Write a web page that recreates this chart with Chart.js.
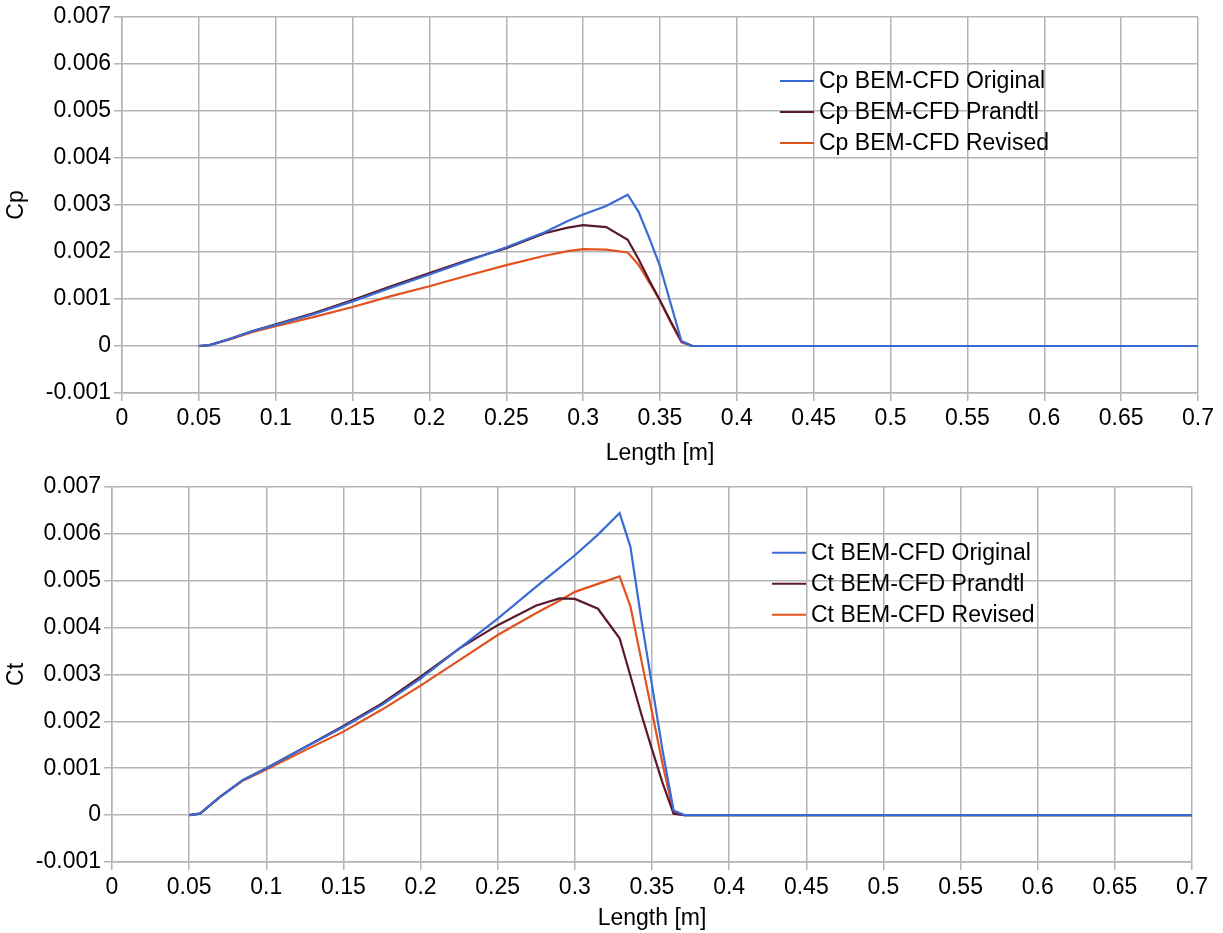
<!DOCTYPE html>
<html>
<head>
<meta charset="utf-8">
<script src="https://cdn.jsdelivr.net/npm/chart.js@4/dist/chart.umd.min.js"></script>
<style>
  html, body { margin: 0; padding: 0; background: #fff; }
  .box { position: absolute; left: 0; width: 1223px; }
  #top { top: 0; height: 470px; }
  #bottom { top: 470px; height: 463px; }
</style>
</head>
<body>
<div class="box" id="top"><canvas id="cpChart"></canvas></div>
<div class="box" id="bottom"><canvas id="ctChart"></canvas></div>
<script>
// radial position along the blade [m]
const lengthM = [0.05, 0.057, 0.07, 0.085, 0.1, 0.125, 0.15, 0.175, 0.2, 0.225, 0.25, 0.275, 0.29,
                 0.3, 0.315, 0.329, 0.336, 0.343, 0.35, 0.357, 0.364, 0.371, 0.4, 0.5, 0.6, 0.7];

const cpOriginal = [0, 0.00002, 0.00015, 0.00032, 0.00045, 0.00068, 0.00095, 0.00124, 0.00152, 0.00181, 0.0021, 0.00242, 0.00266,
                    0.0028, 0.00298, 0.00322, 0.00286, 0.0023, 0.0017, 0.0009, 0.0001, 0, 0, 0, 0, 0];
const cpPrandtl = [0, 0.00002, 0.00015, 0.00032, 0.00046, 0.0007, 0.00098, 0.00127, 0.00155, 0.00183, 0.00208, 0.0024, 0.00252,
                   0.00257, 0.00253, 0.00226, 0.00185, 0.0014, 0.00097, 0.00052, 0.0001, 0, 0, 0, 0, 0];
const cpRevised = [0, 0.00002, 0.00014, 0.0003, 0.00042, 0.00062, 0.00083, 0.00106, 0.00127, 0.0015, 0.00172, 0.00192, 0.00202,
                   0.00206, 0.00205, 0.00199, 0.00173, 0.00135, 0.00097, 0.0005, 0.00008, 0, 0, 0, 0, 0];

const ctOriginal = [0, 0.00003, 0.00039, 0.00075, 0.001, 0.00144, 0.00188, 0.00235, 0.00291, 0.00355, 0.00419, 0.00487, 0.00527,
                    0.00554, 0.00598, 0.00644, 0.00572, 0.00419, 0.00277, 0.00135, 0.0001, 0, 0, 0, 0, 0];
const ctPrandtl = [0, 0.00003, 0.00039, 0.00075, 0.001, 0.00145, 0.0019, 0.00238, 0.00295, 0.00355, 0.00405, 0.00447, 0.00462,
                   0.00461, 0.0044, 0.00377, 0.00297, 0.00216, 0.0014, 0.00067, 0.00003, 0, 0, 0, 0, 0];
const ctRevised = [0, 0.00003, 0.00039, 0.00074, 0.00097, 0.00138, 0.00178, 0.00225, 0.00276, 0.0033, 0.00384, 0.00431, 0.00457,
                   0.00476, 0.00493, 0.00509, 0.00445, 0.00332, 0.0022, 0.00107, 0.00005, 0, 0, 0, 0, 0];

const xTicks = [0, 0.05, 0.1, 0.15, 0.2, 0.25, 0.3, 0.35, 0.4, 0.45, 0.5, 0.55, 0.6, 0.65, 0.7];
const yTicks = [-0.001, 0, 0.001, 0.002, 0.003, 0.004, 0.005, 0.006, 0.007];

const colors = ['#3a6bd4', '#5a1a2c', '#e2521e'];
const FONT = { family: '"Liberation Sans", Arial, sans-serif', size: 23 };
const GRID = '#b3b3b3';

// legend drawn inside the plot, like the original
const innerLegend = {
    id: 'innerLegend',
    afterDraw(chart, args, opts) {
        const ctx = chart.ctx;
        const a = chart.chartArea;
        ctx.save();
        ctx.font = FONT.size + 'px ' + FONT.family;
        ctx.textBaseline = 'middle';
        ctx.fillStyle = '#000';
        chart.data.datasets.forEach((ds, i) => {
            const y = a.top + opts.dy + i * 31;
            const x = a.left + opts.dx;
            ctx.strokeStyle = ds.borderColor;
            ctx.lineWidth = 2;
            ctx.beginPath();
            ctx.moveTo(x, y);
            ctx.lineTo(x + 34, y);
            ctx.stroke();
            ctx.fillText(ds.label, x + 39, y + 1);
        });
        ctx.restore();
    }
};

function makeChart(id, yName, series, names, o) {
    const ctx = document.getElementById(id);
    return new Chart(ctx, {
        type: 'line',
        data: {
            datasets: series.map((s, i) => ({
                label: names[i],
                data: lengthM.map((x, k) => ({ x: x, y: s[k] })),
                borderColor: colors[i],
                borderWidth: 2.2,
                pointRadius: 0,
                tension: 0,
                fill: false
            }))
        },
        options: {
            responsive: true,
            maintainAspectRatio: false,
            animation: false,
            layout: { padding: { top: o.top, right: o.right, bottom: o.bottom, left: 0 } },
            plugins: {
                legend: { display: false },
                tooltip: { enabled: false },
                innerLegend: { dx: o.legX, dy: o.legY }
            },
            scales: {
                x: {
                    type: 'linear', min: 0, max: 0.7,
                    afterBuildTicks: s => { s.ticks = xTicks.map(v => ({ value: v })); },
                    afterFit: s => { s.height = o.xh; },
                    grid: { color: GRID, lineWidth: 1.5, tickLength: 8, tickColor: GRID },
                    border: { color: GRID, width: 1.5 },
                    ticks: { color: '#000', font: FONT, padding: 4, maxRotation: 0,
                             callback: v => String(Number(v.toFixed(2))) },
                    title: { display: true, text: 'Length [m]', color: '#000', font: FONT,
                             padding: { top: 2, bottom: 0 } }
                },
                y: {
                    min: -0.001, max: 0.007,
                    afterBuildTicks: s => { s.ticks = yTicks.map(v => ({ value: v })); },
                    afterFit: s => { s.width = o.yw; },
                    grid: { color: GRID, lineWidth: 1.5, tickLength: 8, tickColor: GRID },
                    border: { color: GRID, width: 1.5 },
                    ticks: { color: '#000', font: FONT, padding: 3,
                             callback: v => String(Number(v.toFixed(3))) },
                    title: { display: true, text: yName, color: '#000', font: FONT, padding: 3 }
                }
            }
        },
        plugins: [innerLegend]
    });
}

makeChart('cpChart', 'Cp', [cpOriginal, cpPrandtl, cpRevised],
    ['Cp BEM-CFD Original', 'Cp BEM-CFD Prandtl', 'Cp BEM-CFD Revised'],
    { top: 17, right: 25, bottom: 3, xh: 74, yw: 122, legX: 658, legY: 64 });

makeChart('ctChart', 'Ct', [ctOriginal, ctPrandtl, ctRevised],
    ['Ct BEM-CFD Original', 'Ct BEM-CFD Prandtl', 'Ct BEM-CFD Revised'],
    { top: 14, right: 31, bottom: 1, xh: 70, yw: 112, legX: 660, legY: 66 });
</script>
</body>
</html>
